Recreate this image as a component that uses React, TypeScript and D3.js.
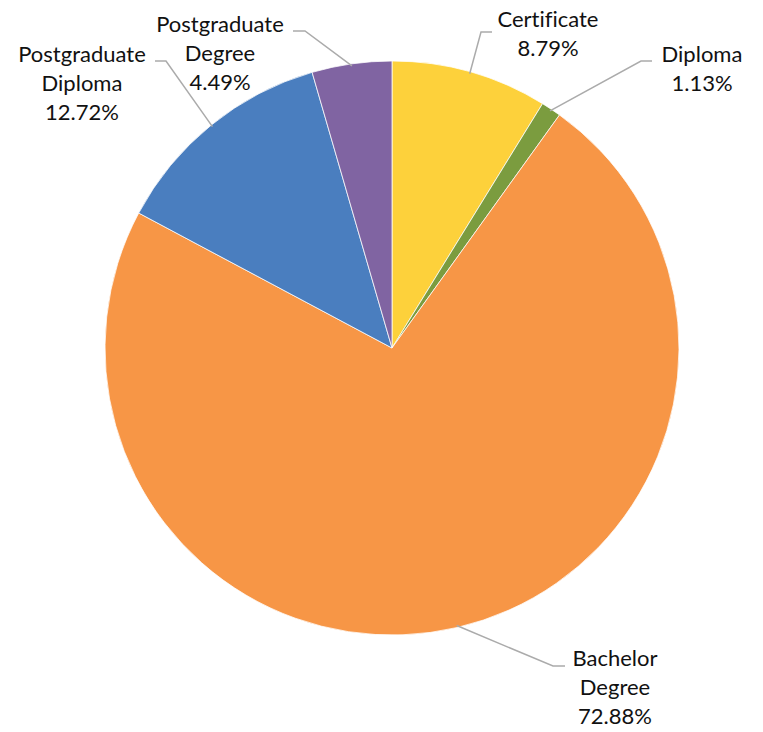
import React from "react";
import * as d3 from "d3";

const categories = ["Certificate", "Diploma", "Bachelor Degree", "Postgraduate Diploma", "Postgraduate Degree"];
const values = [8.79, 1.13, 72.88, 12.72, 4.49];
const colors = ["#FDD13B", "#7B9C3F", "#F79646", "#4A7EBF", "#8064A2"];
const labelLines = [["Certificate", "8.79%"], ["Diploma", "1.13%"], ["Bachelor", "Degree", "72.88%"], ["Postgraduate", "Diploma", "12.72%"], ["Postgraduate", "Degree", "4.49%"]];
// label anchor (text center x, first baseline y) and leader bend/end
const labelPos = [
  { x: 548, y: 27, bend: [481, 32], end: [492, 32] },
  { x: 702, y: 62, bend: [641, 61], end: [652, 61] },
  { x: 615, y: 666, bend: [553, 666], end: [565, 666] },
  { x: 82, y: 62, bend: [166, 61], end: [155, 61] },
  { x: 220, y: 32, bend: [305, 31], end: [293, 31] },
];

export default function App() {
  const W = 763, H = 732;
  const cx = 392, cy = 348, r = 287;
  const pie = d3.pie<number>().sort(null).value((d) => d)(values);
  const arc = d3.arc<d3.PieArcDatum<number>>().innerRadius(0).outerRadius(r);
  const lh = 29;
  return (
    <svg width={W} height={H} style={{ position: "absolute", left: 0, top: 0, fontVariantLigatures: "none" }} fontFamily="Lato, 'Open Sans', sans-serif">
      <rect width={W} height={H} fill="#fff" />
      <g transform={`translate(${cx},${cy})`}>
        {pie.map((p, i) => (
          <path key={categories[i]} d={arc(p) || ""} fill={colors[i]} stroke="#fff" strokeWidth={0.75} />
        ))}
      </g>
      {pie.map((p, i) => {
        const mid = (p.startAngle + p.endAngle) / 2;
        const sx = cx + Math.sin(mid) * (r - 2);
        const sy = cy - Math.cos(mid) * (r - 2);
        const lp = labelPos[i];
        return (
          <g key={"l" + i}>
            <polyline points={`${sx},${sy} ${lp.bend[0]},${lp.bend[1]} ${lp.end[0]},${lp.end[1]}`} fill="none" stroke="#ABABAB" strokeWidth={1.5} />
            <text x={lp.x} y={lp.y} textAnchor="middle" fontSize={22} fill="#111">
              {labelLines[i].map((t, j) => (
                <tspan key={j} x={lp.x} y={lp.y + j * lh}>{t}</tspan>
              ))}
            </text>
          </g>
        );
      })}
    </svg>
  );
}
